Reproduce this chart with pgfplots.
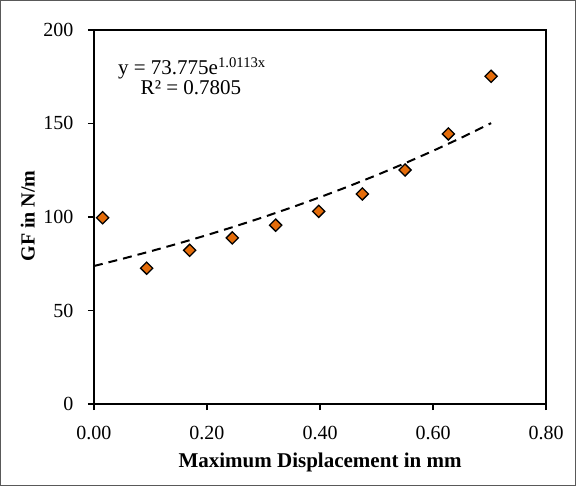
\documentclass[border=0pt]{standalone}
\usepackage{pgfplots}
\pgfplotsset{compat=1.18}
\usepackage{fontspec}
\setmainfont{Liberation Serif}
\definecolor{mk}{RGB}{228,108,10}
\begin{document}
\begin{tikzpicture}
\draw[line width=0.75bp, black!65] (-93.5bp,-81.5bp) rectangle (481.5bp,403.5bp);
\begin{axis}[
  at={(0,0)}, anchor=south west,
  scale only axis, width=452bp, height=374bp,
  xmin=0, xmax=0.8, ymin=0, ymax=200,
  xtick={0,0.2,0.4,0.6,0.8},
  ytick={0,50,100,150,200},
  tick align=outside, tick pos=left,
  major tick length=6bp,
  axis line style={line width=1.5bp},
  tick style={line width=1.5bp, black},
  /pgf/number format/assume math mode=true,
  xticklabel style={/pgf/number format/.cd, fixed, fixed zerofill, precision=2, /tikz/.cd, yshift=-13bp},
  yticklabel style={/pgf/number format/.cd, fixed, /tikz/.cd, xshift=-11bp},
  tick label style={font=\fontsize{20bp}{24bp}\selectfont},
  clip=false,
]
\addplot[black, line width=2bp, dash pattern=on 9bp off 6bp] coordinates {
(0,73.775) (0.05,77.60) (0.1,81.63) (0.15,85.86) (0.2,90.31) (0.25,95.00)
(0.3,99.92) (0.35,105.11) (0.4,110.56) (0.45,116.29) (0.5,122.32)
(0.55,128.67) (0.6,135.34) (0.65,142.36) (0.7,149.74) (0.7027,150.15)
};
\addplot[only marks, mark=square*, mark size=4.3bp,
  mark options={rotate=45, fill=mk, draw=black, line width=1.3bp}] coordinates {
(0.0154,99.6) (0.0933,72.6) (0.1694,82.2) (0.2448,88.8) (0.3216,95.6)
(0.3977,103.0) (0.4749,112.3) (0.5504,125.1) (0.6271,144.4) (0.7027,175.2)
};
\end{axis}
\node[font=\fontsize{21bp}{25bp}\selectfont\bfseries] at (226bp,-58bp) {Maximum Displacement in mm};
\node[rotate=90, font=\fontsize{20bp}{24bp}\selectfont\bfseries] at (-66bp,188bp) {GF in N/m};
\node[anchor=base, font=\fontsize{21bp}{25bp}\selectfont] at (98bp,329bp) {y = 73.775e\textsuperscript{1.0113x}};
\node[anchor=base, font=\fontsize{21bp}{25bp}\selectfont] at (97bp,309bp) {R² = 0.7805};
\end{tikzpicture}
\end{document}
